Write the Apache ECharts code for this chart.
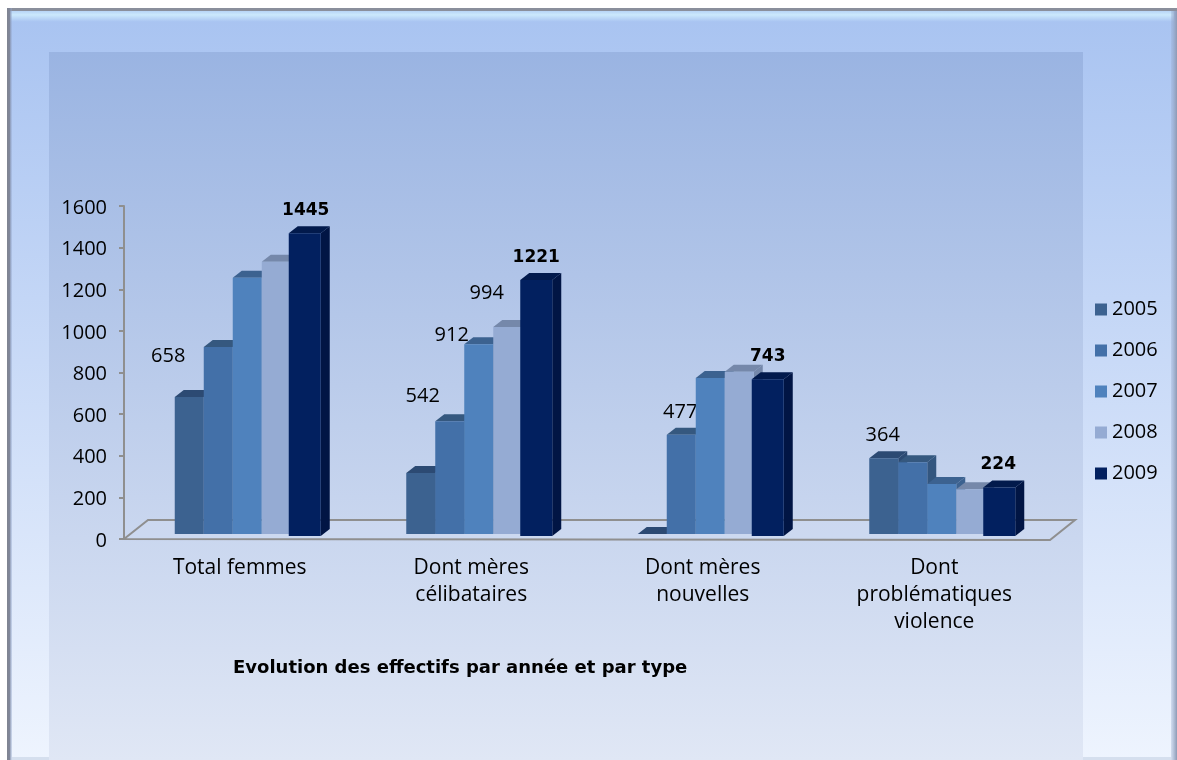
<!DOCTYPE html>
<html><head><meta charset="utf-8">
<style>html,body{margin:0;padding:0;background:#fff;overflow:hidden}#c{width:1177px;height:760px}</style>
<script src="https://cdn.jsdelivr.net/npm/echarts@6/dist/echarts.min.js"></script>
</head><body><div id="c"></div>
<script>
const categories = ['Total femmes', 'Dont mères\ncélibataires', 'Dont mères\nnouvelles', 'Dont\nproblématiques\nviolence'];
const years = ['2005', '2006', '2007', '2008', '2009'];
const v2005 = [658, 293, 0, 364];
const v2006 = [899, 542, 477, 345];
const v2007 = [1231, 912, 750, 240];
const v2008 = [1308, 994, 779, 215];
const v2009 = [1445, 1221, 743, 224];
const seriesValues = [v2005, v2006, v2007, v2008, v2009];
const yTicks = [0, 1600, 200];
const chartTitle = 'Evolution des effectifs par année et par type';
const frontColors = ['#3c6290', '#4370a8', '#4f82bd', '#95abd3', '#02205f'];
const topColors = ['#2c4a73', '#35587f', '#3c6290', '#7588aa', '#021a4c'];
const sideColors = ['#2c4a73', '#33567f', '#3c6290', '#7588aa', '#011544'];
// which bars carry a value label, with the label's offset from the bar's top
const labelSpec = {
  '0-0': {dx: -21, dy: -41, bold: false}, '4-0': {dx: 1, dy: -23, bold: true},
  '1-1': {dx: -27, dy: -25, bold: false}, '2-1': {dx: -27, dy: -9, bold: false},
  '3-1': {dx: -21, dy: -34, bold: false}, '4-1': {dx: 0, dy: -22, bold: true},
  '1-2': {dx: -1, dy: -22, bold: false}, '4-2': {dx: 0, dy: -23, bold: true},
  '0-3': {dx: -1, dy: -23, bold: false}, '4-3': {dx: -1, dy: -23, bold: true}
};
const FONT = '"Open Sans", sans-serif';
const BOLD = '"DejaVu Sans", sans-serif';
const BAR_W = 29, DEPTH_X = 9, DEPTH_Y = 7, BASE_UP = 5, SHIFT_X = 7.5;

function renderBar(s) {
  return function (params, api) {
    const cat = api.value(0), val = api.value(1);
    const p = api.coord([cat, val]), base = api.coord([cat, 0]);
    const x0 = p[0] + SHIFT_X - 2.5 * BAR_W + s * BAR_W - (s === 4 ? 2 : 0);
    const x1 = p[0] + SHIFT_X - 2.5 * BAR_W + (s + 1) * BAR_W + (s === 4 ? 1 : 0);
    const yTop = p[1] - BASE_UP, yBot = base[1] - BASE_UP + (s === 4 ? 2 : 0);
    const children = [
      {type: 'polygon', shape: {points: [[x1, yTop], [x1 + DEPTH_X, yTop - DEPTH_Y], [x1 + DEPTH_X, yBot - DEPTH_Y], [x1, yBot]]},
       style: {fill: sideColors[s]}},
      {type: 'polygon', shape: {points: [[x0, yTop], [x0 + DEPTH_X, yTop - DEPTH_Y], [x1 + DEPTH_X, yTop - DEPTH_Y], [x1, yTop]]},
       style: {fill: topColors[s]}}
    ];
    if (val > 0) {
      children.push({type: 'rect', shape: {x: x0, y: yTop, width: x1 - x0, height: yBot - yTop},
        style: {fill: frontColors[s]}});
    }
    const spec = labelSpec[s + '-' + cat];
    if (spec) {
      children.push({type: 'text', x: (x0 + x1) / 2 + spec.dx, y: yTop + spec.dy, z2: 50,
        style: {text: String(val), align: 'center', verticalAlign: 'middle', fill: '#000',
          font: (spec.bold ? 'bold 17px ' + BOLD : '20px ' + FONT)}});
    }
    return {type: 'group', children};
  };
}
function renderFloor(params, api) {
  const c = params.coordSys;
  const yF = c.y + c.height, xL = c.x, xR = c.x + c.width;
  const pts = [[xL, yF], [xL + 24, yF - 19], [xR + 25, yF - 19], [xR, yF + 1]];
  return {type: 'polygon', shape: {points: pts},
    style: {fill: 'rgba(205,218,240,0.55)', stroke: '#8f8f8f', lineWidth: 2}};
}
const series = [{type: 'custom', name: 'floor', silent: true, z: 1, renderItem: renderFloor, data: [[0, 0]], encode: {x: 0, y: 1}}];
years.forEach((y, s) => {
  series.push({type: 'custom', name: y, z: 2 + s, renderItem: renderBar(s), itemStyle: {color: frontColors[s]},
    data: seriesValues[s].map((v, i) => [i, v]), encode: {x: 0, y: 1}});
});

const chart = echarts.init(document.getElementById('c'), null, {renderer: 'canvas'});
chart.setOption({
  animation: false,
  backgroundColor: '#ffffff',
  graphic: {elements: [
    {type: 'rect', z: -10, shape: {x: 7, y: 8, width: 1170, height: 752},
     style: {fill: {type: 'linear', x: 0, y: 0, x2: 0, y2: 1, colorStops: [{offset: 0, color: '#a8c3f1'}, {offset: 1, color: '#eef4fe'}]}}},
    {type: 'rect', z: -9, shape: {x: 10, y: 11, width: 1164, height: 11},
     style: {fill: {type: 'linear', x: 0, y: 0, x2: 0, y2: 1, colorStops: [{offset: 0, color: '#b7d4f6'}, {offset: 0.35, color: '#cbe8fc'}, {offset: 1, color: '#a8c3f1'}]}}},
    {type: 'rect', z: -9, shape: {x: 7, y: 8, width: 1170, height: 3}, style: {fill: '#8a8f9c'}},
    {type: 'rect', z: -9, shape: {x: 7, y: 8, width: 5, height: 752},
     style: {fill: {type: 'linear', x: 0, y: 0, x2: 1, y2: 0, colorStops: [{offset: 0, color: '#7f8490'}, {offset: 0.5, color: '#80879a'}, {offset: 1, color: 'rgba(150,170,210,0.3)'}]}}},
    {type: 'rect', z: -9, shape: {x: 1171, y: 11, width: 6, height: 749},
     style: {fill: {type: 'linear', x: 0, y: 0, x2: 1, y2: 0, colorStops: [{offset: 0, color: 'rgba(150,170,205,0.3)'}, {offset: 1, color: '#8d9ab4'}]}}},
    {type: 'rect', z: -9, shape: {x: 12, y: 757, width: 1159, height: 3}, style: {fill: '#d5dfee'}},
    {type: 'rect', z: -8, shape: {x: 49, y: 52, width: 1034, height: 708},
     style: {fill: {type: 'linear', x: 0, y: 0, x2: 0, y2: 1, colorStops: [{offset: 0, color: '#9ab4e2'}, {offset: 1, color: '#e0e7f5'}]}}}
  ]},
  title: {text: chartTitle, left: 233, top: 659, padding: 0,
    textStyle: {fontFamily: BOLD, fontWeight: 'bold', fontSize: 18, color: '#000'}},
  legend: {data: years, orient: 'vertical', left: 1090, top: 294, itemWidth: 12, itemHeight: 12, itemGap: 20, icon: 'rect',
    textStyle: {fontFamily: FONT, fontSize: 20, color: '#000', lineHeight: 21}},
  grid: {left: 124, top: 206, width: 926, height: 333},
  xAxis: {type: 'category', data: categories, boundaryGap: true,
    axisLine: {show: false}, axisTick: {show: false},
    axisLabel: {interval: 0, margin: 16, fontFamily: FONT, fontSize: 21, color: '#000', lineHeight: 27}},
  yAxis: {type: 'value', min: yTicks[0], max: yTicks[1], interval: yTicks[2], splitLine: {show: false},
    axisLine: {show: true, lineStyle: {color: '#8f8f8f', width: 2}},
    axisTick: {show: true, length: 5, lineStyle: {color: '#8f8f8f', width: 2}},
    axisLabel: {margin: 17, fontFamily: FONT, fontSize: 20, color: '#000', verticalAlign: 'top', lineHeight: 4, formatter: v => String(v)}},
  series
});
</script></body></html>
